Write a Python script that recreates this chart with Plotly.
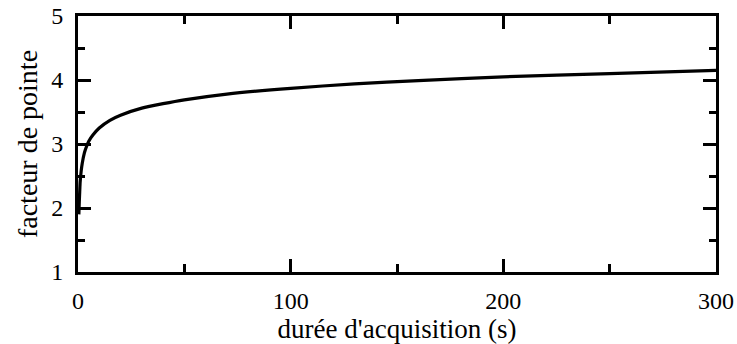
import plotly.graph_objects as go

duree = [0.4, 0.6, 0.8, 1, 1.5, 2, 3, 4, 5, 7, 10, 15, 20, 30, 40, 50, 70, 100, 130, 160, 200, 250, 300]
facteur = [1.9, 2.1, 2.25, 2.40, 2.58, 2.70, 2.86, 2.96, 3.04, 3.14, 3.25, 3.37, 3.45, 3.56, 3.63, 3.69, 3.78, 3.87, 3.94, 3.99, 4.05, 4.10, 4.15]

font = "Liberation Serif, Times New Roman, serif"

fig = go.Figure(go.Scatter(x=duree, y=facteur, mode="lines",
                           line=dict(color="black", width=3.2, shape="spline", smoothing=0.6),
                           showlegend=False, hoverinfo="skip"))

axis_common = dict(showline=True, linecolor="black", linewidth=3, mirror="ticks",
                   ticks="inside", ticklen=13, tickwidth=3, tickcolor="black",
                   showgrid=False, zeroline=False, automargin=False,
                   tickfont=dict(family=font, size=24, color="black"))

fig.update_xaxes(range=[0, 300], tickvals=[0, 100, 200, 300],
                 minor=dict(dtick=50, ticks="inside", ticklen=8, tickwidth=3, tickcolor="black", showgrid=False),
                 title=dict(text="durée d'acquisition (s)", font=dict(family=font, size=27, color="black"), standoff=6),
                 ticklabelstandoff=5,
                 **axis_common)
fig.update_yaxes(range=[1, 5], tickvals=[1, 2, 3, 4, 5],
                 minor=dict(dtick=0.5, ticks="inside", ticklen=7, tickwidth=3, tickcolor="black", showgrid=False),
                 title=dict(text="facteur de pointe", font=dict(family=font, size=28, color="black"), standoff=6),
                 ticklabelstandoff=7,
                 **axis_common)

fig.update_layout(width=737, height=344, margin=dict(l=78, r=21, t=16, b=72),
                  plot_bgcolor="white", paper_bgcolor="white")

fig.write_html("out.html", config={"displayModeBar": False},
               post_script="document.body.style.margin='0';")
